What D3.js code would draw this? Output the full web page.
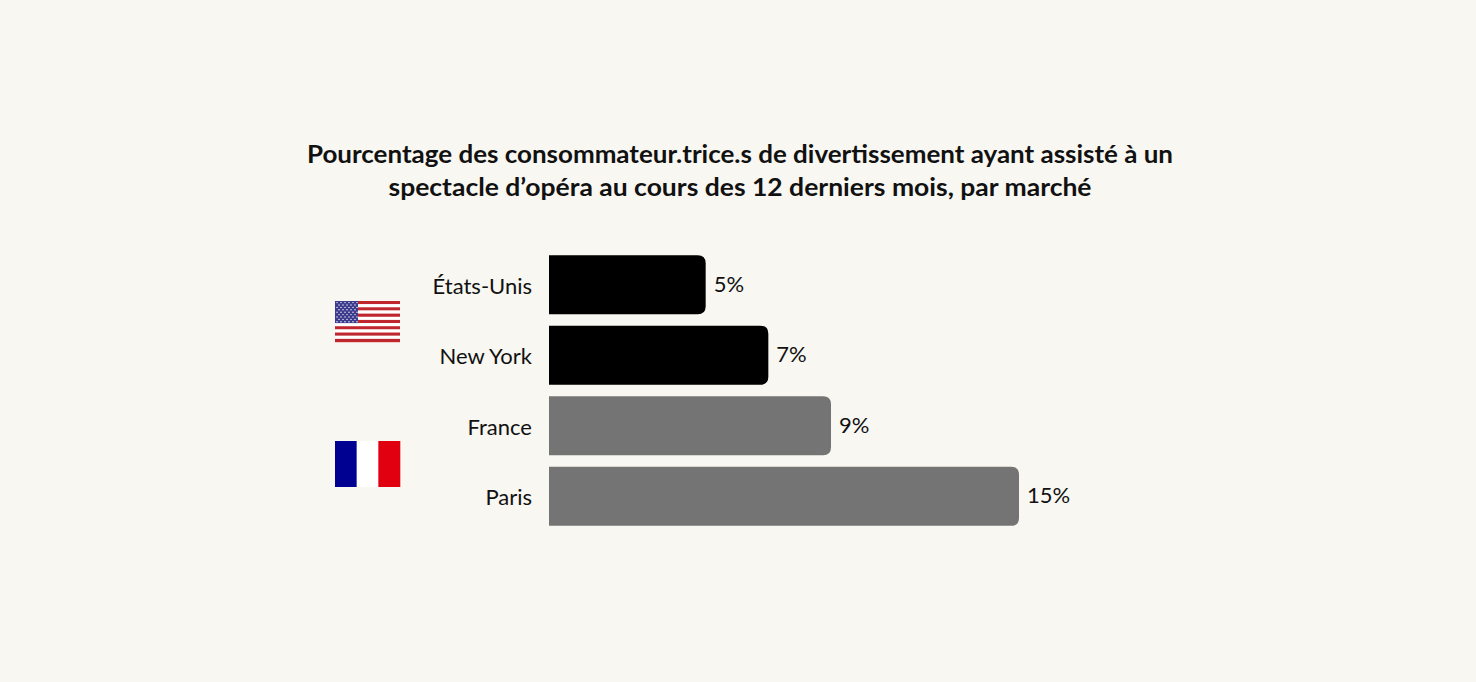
<!DOCTYPE html>
<html>
<head>
<meta charset="utf-8">
<script src="https://cdn.jsdelivr.net/npm/d3@7"></script>
<style>
  html, body { margin: 0; padding: 0; background: #f8f7f1; }
  svg { display: block; }
  .title { font-family: Lato, sans-serif; font-size: 24px; font-weight: 700; fill: #111; }
  .cat { font-family: Lato, sans-serif; font-size: 22px; fill: #111; }
  .val { font-family: Lato, sans-serif; font-size: 22px; fill: #111; }
</style>
</head>
<body>
<svg id="chart"></svg>
<script>
const categories = ['États-Unis', 'New York', 'France', 'Paris']
const values = [5, 7, 9, 15]
const groups = ['us', 'us', 'fr', 'fr']
const titleLines = [
  'Pourcentage des consommateur.trice.s de divertissement ayant assisté à un',
  'spectacle d’opéra au cours des 12 derniers mois, par marché'
]
const titleWidths = [866, 703]

const width = 1476
const height = 682
const svg = d3.select('#chart').attr('width', width).attr('height', height)

svg.append('rect').attr('width', width).attr('height', height).attr('fill', '#f8f7f1')

svg.append('g').selectAll('text')
  .data(titleLines)
  .enter()
  .append('text')
  .attr('class', 'title')
  .attr('x', 740)
  .attr('y', (d, i) => 163 + i * 33)
  .attr('text-anchor', 'middle')
  .attr('textLength', (d, i) => titleWidths[i])
  .attr('lengthAdjust', 'spacingAndGlyphs')
  .text(d => d)

const x = d3.scaleLinear().domain([0, 15]).range([549, 1019])
const y = d3.scaleBand().domain(categories).range([249.5, 531.5]).paddingInner(0.163).paddingOuter(0.08)

const colour = d => d === 'us' ? '#000000' : '#747474'
const r = 8

// bars with rounded right corners only
const barPath = (x0, x1, y0, h) => {
  return 'M' + x0 + ',' + y0 +
    'H' + (x1 - r) +
    'Q' + x1 + ',' + y0 + ' ' + x1 + ',' + (y0 + r) +
    'V' + (y0 + h - r) +
    'Q' + x1 + ',' + (y0 + h) + ' ' + (x1 - r) + ',' + (y0 + h) +
    'H' + x0 + 'Z'
}

const bar = svg.append('g').selectAll('g')
  .data(categories)
  .enter()
  .append('g')

bar.append('path')
  .attr('d', (d, i) => barPath(x(0), x(values[i]), y(d), y.bandwidth()))
  .attr('fill', (d, i) => colour(groups[i]))

bar.append('text')
  .attr('class', 'cat')
  .attr('x', 532)
  .attr('y', d => y(d) + y.bandwidth() / 2 + 9)
  .attr('text-anchor', 'end')
  .text(d => d)

bar.append('text')
  .attr('class', 'val')
  .attr('x', (d, i) => x(values[i]) + 8)
  .attr('y', d => y(d) + y.bandwidth() / 2 + 7)
  .text((d, i) => values[i] + '%')

// flags
const us = svg.append('g').attr('transform', 'translate(335,301)')
const fw = 65, fh = 41
d3.range(13).forEach(k => {
  us.append('rect')
    .attr('x', 0).attr('y', k * fh / 13)
    .attr('width', fw).attr('height', fh / 13 + 0.2)
    .attr('fill', k % 2 === 0 ? '#c0262d' : '#ffffff')
})
us.append('rect').attr('width', 23).attr('height', fh * 7 / 13).attr('fill', '#3c3b8e')
d3.range(9).forEach(row => {
  const n = row % 2 === 0 ? 6 : 5
  d3.range(n).forEach(c => {
    us.append('circle')
      .attr('cx', (row % 2 === 0 ? 2 : 4) + c * 4)
      .attr('cy', 1.6 + row * 2.4)
      .attr('r', 0.7)
      .attr('fill', '#fff')
  })
})

const fr = svg.append('g').attr('transform', 'translate(335,441)')
const frCols = ['#000091', '#ffffff', '#e1000f']
frCols.forEach((c, i) => {
  fr.append('rect')
    .attr('x', i * 65 / 3).attr('y', 0)
    .attr('width', 65 / 3 + 0.3).attr('height', 46)
    .attr('fill', c)
})
</script>
</body>
</html>
